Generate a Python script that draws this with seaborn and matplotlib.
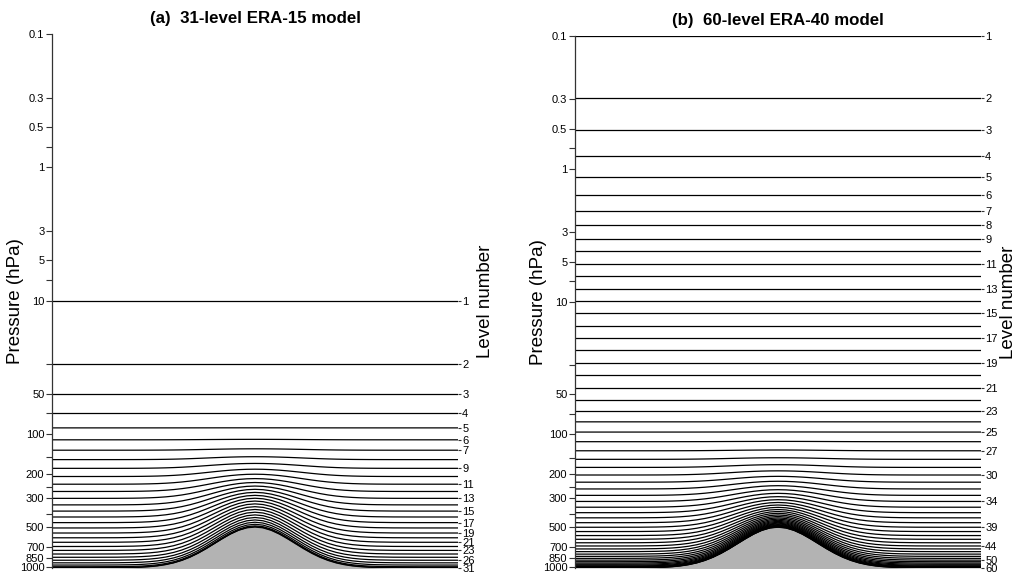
import numpy as np
import pandas as pd
import matplotlib
matplotlib.use("Agg")
import matplotlib.pyplot as plt
import seaborn as sns

# ---------------- data ----------------
# horizontal position (arbitrary units across the panel) and surface pressure (hPa)
DIST = [0, 10, 16, 20, 22, 24, 26, 28, 30, 32, 34, 36, 38, 40, 42, 44, 46, 48, 50,
        52, 54, 56, 58, 60, 62, 64, 66, 68, 70, 72, 74, 76, 78, 80, 84, 90, 100]
SURF_P = [1013.25, 1013.1, 1011.6, 1006.9, 1001.7, 992.9, 979.1, 958.4, 929.4, 890.8,
          842.8, 787.2, 727.3, 667.2, 611.7, 564.7, 529.3, 507.4, 500.0, 507.4, 529.3,
          564.7, 611.7, 667.2, 727.3, 787.2, 842.8, 890.8, 929.4, 958.4, 979.1, 992.9,
          1001.7, 1006.9, 1011.6, 1013.1, 1013.25]
P_FLAT = 1013.25

# 31-level ERA-15 model: full-level hybrid coefficients (A in hPa, B dimensionless)
A31 = [10.0, 30.0, 50.0, 70.0, 89.88, 108.98, 126.26, 140.84, 152.13, 159.78, 163.66,
       163.81, 160.45, 153.88, 144.55, 132.95, 119.63, 105.16, 90.12, 75.07, 60.54,
       46.98, 34.81, 24.33, 15.75, 9.17, 4.55, 1.72, 0.36, 0.0, 0.0]
B31 = [0.0, 0.0, 0.0, 0.0, 0.0002, 0.0017, 0.0061, 0.0148, 0.0287, 0.0482, 0.0737,
       0.1050, 0.1420, 0.1843, 0.2316, 0.2832, 0.3386, 0.3970, 0.4575, 0.5194, 0.5816,
       0.6433, 0.7036, 0.7613, 0.8156, 0.8655, 0.9102, 0.9488, 0.9780, 0.9930, 0.9985]
LAB31 = [1, 2, 3, 4, 5, 6, 7, 9, 11, 13, 15, 17, 19, 21, 23, 26, 31]

# 60-level ERA-40 model
A60 = [0.1000, 0.2921, 0.5104, 0.7964, 1.1506, 1.5753, 2.0768, 2.6664, 3.3623, 4.1930,
       5.2013, 6.4443, 7.9844, 9.8925, 12.2565, 15.1856, 18.8146, 23.3108, 28.8816,
       35.7836, 44.3350, 54.6236, 66.6233, 80.3584, 95.7059, 112.2679, 129.2639,
       145.7757, 160.9964, 174.3233, 185.3644, 193.9140, 199.8866, 203.2603, 204.0717,
       202.4094, 198.4087, 192.2454, 184.1305, 174.3041, 163.0296, 150.5879, 137.2717,
       123.3799, 109.2113, 95.0593, 81.2058, 67.9156, 55.4305, 43.9635, 33.6930,
       24.7574, 17.2485, 11.2064, 6.6135, 3.3886, 1.3814, 0.3663, 0.0368, 0.0]
B60 = [0.0] * 23 + [0.0000379, 0.000268, 0.001138, 0.003448, 0.008112, 0.015911,
       0.027400, 0.042906, 0.062612, 0.086605, 0.114849, 0.147204, 0.183430, 0.223205,
       0.266128, 0.311739, 0.359524, 0.408928, 0.459368, 0.510241, 0.560939, 0.610858,
       0.659408, 0.706028, 0.750192, 0.791425, 0.829314, 0.863516, 0.893771, 0.919912,
       0.941881, 0.959734, 0.973654, 0.983967, 0.991145, 0.995825, 0.998815]
LAB60 = [1, 2, 3, 4, 5, 6, 7, 8, 9, 11, 13, 15, 17, 19, 21, 23, 25, 27, 30, 34, 39, 44, 50, 60]

P_TICKS = [0.1, 0.3, 0.5, 0.7, 1, 3, 5, 7, 10, 30, 50, 70, 100, 150, 200, 250, 300,
           400, 500, 700, 850, 1000]
P_TICKLABELS = ["0.1", "0.3", "0.5", "", "1", "3", "5", "", "10", "", "50", "", "100",
                "", "200", "", "300", "", "500", "700", "850", "1000"]

TITLES = ["(a)  31-level ERA-15 model", "(b)  60-level ERA-40 model"]

# ---------------- style ----------------
sns.set_style("white")
plt.rcParams["font.family"] = ["Liberation Sans", "DejaVu Sans"]
plt.rcParams["text.color"] = "black"
plt.rcParams["axes.labelcolor"] = "black"
plt.rcParams["ytick.labelcolor"] = "black"

W, H = 1027, 575
fig = plt.figure(figsize=(W / 100, H / 100), dpi=100)
axes = [
    fig.add_axes([52 / W, 1 - 568 / H, (458 - 52) / W, (568 - 34) / H]),
    fig.add_axes([575 / W, 1 - 568 / H, (981 - 575) / W, (568 - 36) / H]),
]

x = np.asarray(DIST, float)
ps = np.asarray(SURF_P, float)

for ax, A, B, labs, title in zip(axes, [A31, A60], [B31, B60], [LAB31, LAB60], TITLES):
    A = np.asarray(A)
    B = np.asarray(B)
    nlev = len(A)
    P = A[:, None] + B[:, None] * ps[None, :]
    df = pd.DataFrame({
        "x": np.tile(x, nlev),
        "p": P.ravel(),
        "level": np.repeat(np.arange(1, nlev + 1), len(x)),
    })
    ax.set_yscale("log")
    ax.fill_between(x, ps, P_FLAT + 50, color="#b3b3b3", lw=0, zorder=1)
    sns.lineplot(data=df, x="x", y="p", units="level", estimator=None, color="black",
                 lw=0.9, legend=False, ax=ax, zorder=2)
    ax.set_xlim(0, 100)
    ax.set_ylim(P_FLAT, 0.1)
    ax.set_xticks([])
    ax.set_xlabel("")
    ax.set_yticks(P_TICKS, labels=P_TICKLABELS)
    ax.minorticks_off()
    ax.tick_params(axis="y", which="major", left=True, length=4, width=0.8,
                   color="#333333", pad=1.5, labelsize=8, labelcolor="black")
    for s in ["top", "right", "bottom"]:
        ax.spines[s].set_visible(False)
    ax.spines["left"].set_color("#333333")
    ax.spines["left"].set_linewidth(0.9)
    ax.set_ylabel("Pressure (hPa)", fontsize=13.5, labelpad=-3, color="black")
    ax.set_title(title, fontsize=12.2, fontweight="bold", pad=8, color="black")

    # right-hand level numbers
    ax2 = ax.twinx()
    ax2.set_yscale("log")
    ax2.set_ylim(P_FLAT, 0.1)
    edges = [A[k - 1] + B[k - 1] * P_FLAT for k in labs]
    ax2.set_yticks(edges, labels=[str(k) for k in labs])
    ax2.minorticks_off()
    ax2.tick_params(axis="y", which="major", right=True, length=2, width=0.8,
                    color="#333333", pad=1, labelsize=8, labelcolor="black")
    for s in ["top", "right", "bottom", "left"]:
        ax2.spines[s].set_visible(False)
    ax2.set_ylabel("Level number", fontsize=13.5, labelpad=2, color="black")

fig.savefig("out.png", dpi=100)
